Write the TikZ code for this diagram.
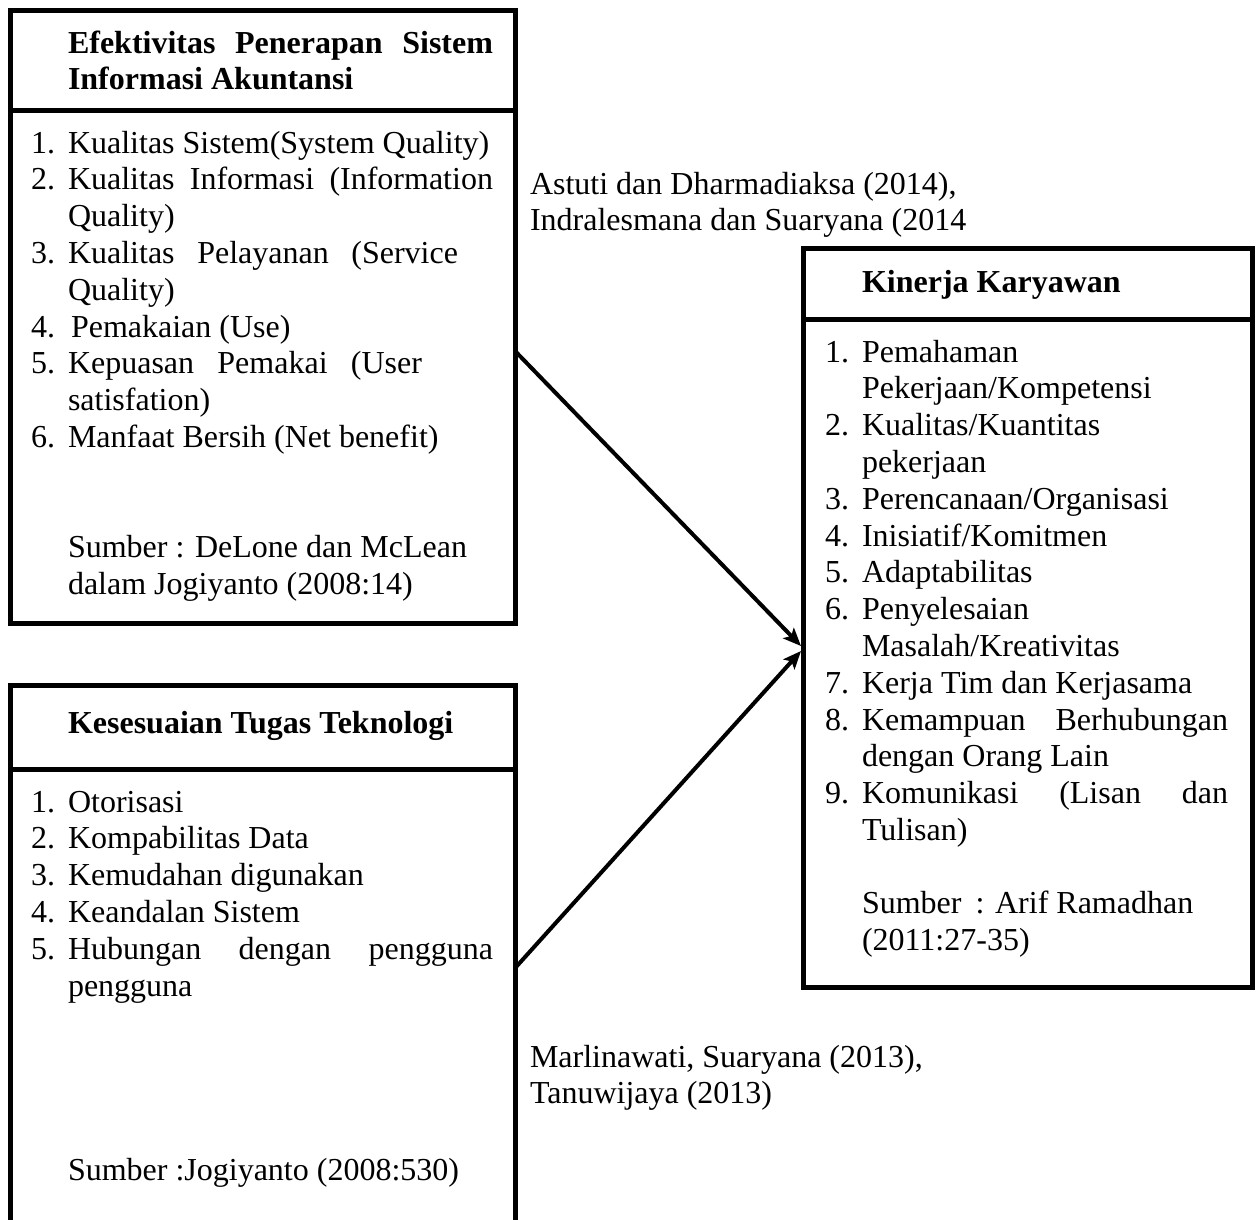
\documentclass[tikz,border=0pt]{standalone}
\usepackage{fontspec}
\setmainfont{Liberation Serif}
\usetikzlibrary{arrows.meta}
\begin{document}
\begin{tikzpicture}[x=1pt,y=-1pt,
  boxline/.style={draw, line width=5pt, outer sep=0pt, inner sep=0pt, anchor=north west},
  rule/.style={line width=5pt},
  txt/.style={anchor=base west, inner sep=0pt, outer sep=0pt, font=\fontsize{32}{36.8}\selectfont},
  btxt/.style={txt, font=\fontsize{32}{36.8}\selectfont\bfseries},
  arr/.style={line width=4pt, -{Stealth[length=18pt,width=15pt,inset=4pt]}}]
\clip (0,0) rectangle (1259,1219);
\fill[white] (0,0) rectangle (1259,1219);

% boxes
\node[boxline, minimum width=505pt, minimum height=613pt] (box1) at (10,10) {};
\draw[rule] (10,110) -- (515,110);
\node[boxline, minimum width=505pt, minimum height=620pt] (box2) at (10,685) {};
\draw[rule] (10,769) -- (515,769);
\node[boxline, minimum width=449pt, minimum height=739pt] (box3) at (803,248) {};
\draw[rule] (803,319) -- (1252,319);

% box 1 text
\node[btxt] (h1a) at (68,53) {\makebox[425pt][s]{Efektivitas Penerapan Sistem}};
\node[btxt] (h1b) at (68,89.8) {Informasi Akuntansi};
\node[txt] (n11) at (31,153) {1.};
\node[txt] (i11) at (68,153) {Kualitas Sistem(System Quality)};
\node[txt] (n12) at (31,189.8) {2.};
\node[txt] (i12) at (68,189.8) {\makebox[425pt][s]{Kualitas Informasi (Information}};
\node[txt] (i12b) at (68,226.6) {Quality)};
\node[txt] (n13) at (31,263.4) {3.};
\node[txt] (i13) at (68,263.4) {\makebox[390pt][s]{Kualitas Pelayanan (Service}};
\node[txt] (i13b) at (68,300.2) {Quality)};
\node[txt] (n14) at (31,337) {4.};
\node[txt] (i14) at (71,337) {Pemakaian (Use)};
\node[txt] (n15) at (31,373.8) {5.};
\node[txt] (i15) at (68,373.8) {\makebox[354pt][s]{Kepuasan Pemakai (User}};
\node[txt] (i15b) at (68,410.6) {satisfation)};
\node[txt] (n16) at (31,447.4) {6.};
\node[txt] (i16) at (68,447.4) {Manfaat Bersih (Net benefit)};
\node[txt] (s1a) at (68,557.8) {Sumber : DeLone dan McLean};
\node[txt] (s1b) at (68,594.6) {dalam Jogiyanto (2008:14)};

% box 2 text
\node[btxt] (h2) at (68,733) {Kesesuaian Tugas Teknologi};
\node[txt] (n21) at (31,812) {1.};
\node[txt] (i21) at (68,812) {Otorisasi};
\node[txt] (n22) at (31,848.8) {2.};
\node[txt] (i22) at (68,848.8) {Kompabilitas Data};
\node[txt] (n23) at (31,885.6) {3.};
\node[txt] (i23) at (68,885.6) {Kemudahan digunakan};
\node[txt] (n24) at (31,922.4) {4.};
\node[txt] (i24) at (68,922.4) {Keandalan Sistem};
\node[txt] (n25) at (31,959.2) {5.};
\node[txt] (i25) at (68,959.2) {\makebox[425pt][s]{Hubungan dengan pengguna}};
\node[txt] (i25b) at (68,996) {pengguna};
\node[txt] (s2) at (68,1180) {Sumber :Jogiyanto (2008:530)};

% box 3 text
\node[btxt] (h3) at (862,292) {Kinerja Karyawan};
\node[txt] (n31) at (825,362) {1.};
\node[txt] (i31) at (862,362) {Pemahaman};
\node[txt] (i31b) at (862,398.8) {Pekerjaan/Kompetensi};
\node[txt] (n32) at (825,435.6) {2.};
\node[txt] (i32) at (862,435.6) {Kualitas/Kuantitas};
\node[txt] (i32b) at (862,472.4) {pekerjaan};
\node[txt] (n33) at (825,509.2) {3.};
\node[txt] (i33) at (862,509.2) {Perencanaan/Organisasi};
\node[txt] (n34) at (825,546) {4.};
\node[txt] (i34) at (862,546) {Inisiatif/Komitmen};
\node[txt] (n35) at (825,582.8) {5.};
\node[txt] (i35) at (862,582.8) {Adaptabilitas};
\node[txt] (n36) at (825,619.6) {6.};
\node[txt] (i36) at (862,619.6) {Penyelesaian};
\node[txt] (i36b) at (862,656.4) {Masalah/Kreativitas};
\node[txt] (n37) at (825,693.2) {7.};
\node[txt] (i37) at (862,693.2) {Kerja Tim dan Kerjasama};
\node[txt] (n38) at (825,730) {8.};
\node[txt] (i38) at (862,730) {\makebox[366pt][s]{Kemampuan Berhubungan}};
\node[txt] (i38b) at (862,766.8) {dengan Orang Lain};
\node[txt] (n39) at (825,803.6) {9.};
\node[txt] (i39) at (862,803.6) {\makebox[366pt][s]{Komunikasi (Lisan dan}};
\node[txt] (i39b) at (862,840.4) {Tulisan)};
\node[txt] (s3a) at (862,913.2) {Sumber\hspace{6pt} : Arif Ramadhan};
\node[txt] (s3b) at (862,950) {(2011:27-35)};

% labels
\node[txt] (l1a) at (530,194) {Astuti dan Dharmadiaksa (2014),};
\node[txt] (l1b) at (530,230.8) {Indralesmana dan Suaryana (2014};
\node[txt] (l2a) at (530,1067) {Marlinawati, Suaryana (2013),};
\node[txt] (l2b) at (530,1103.8) {Tanuwijaya (2013)};

% connectors
\coordinate (a1s) at (516,352);
\coordinate (a1e) at (801,646);
\coordinate (a2s) at (516,967);
\coordinate (a2e) at (801,651);
\draw[arr] (a1s) -- (a1e);
\draw[arr] (a2s) -- (a2e);
\end{tikzpicture}
\end{document}
